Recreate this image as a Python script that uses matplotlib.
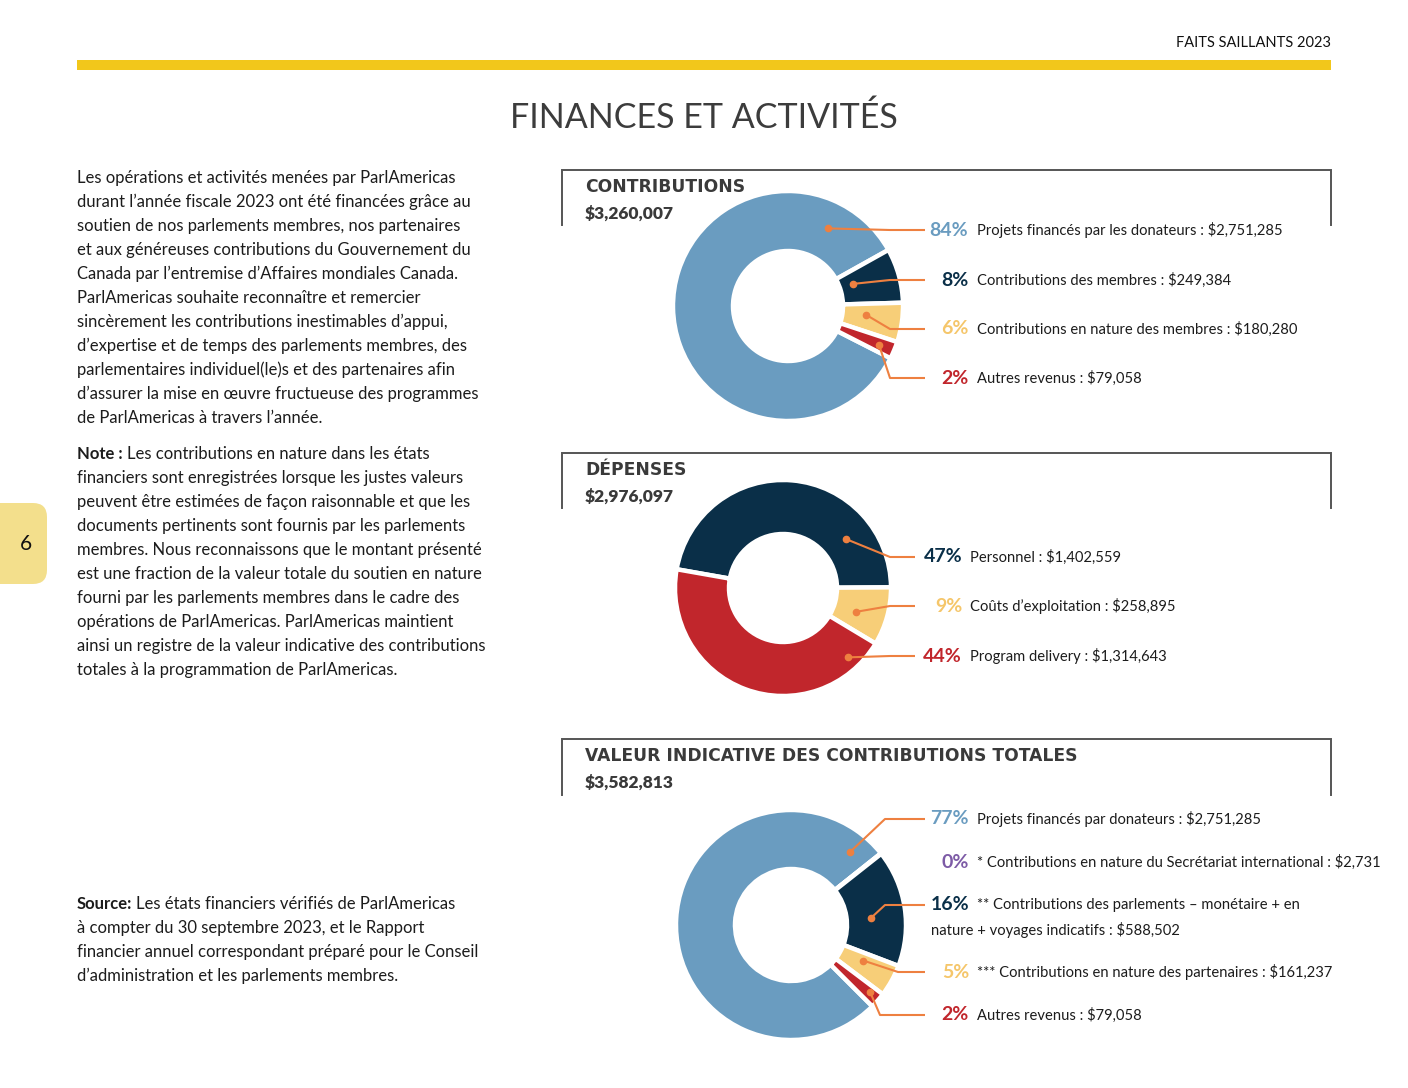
import matplotlib
matplotlib.use("Agg")
import matplotlib.pyplot as plt
import numpy as np
from matplotlib.patches import FancyBboxPatch

# ---------------- data ----------------
contrib_total = "$3,260,007"
contrib_values = [2751285, 249384, 180280, 79058]
contrib_pct = ["84%", "8%", "6%", "2%"]
contrib_labels = ["Projets financés par les donateurs : $2,751,285",
                  "Contributions des membres : $249,384",
                  "Contributions en nature des membres : $180,280",
                  "Autres revenus : $79,058"]

dep_total = "$2,976,097"
dep_values = [1402559, 258895, 1314643]
dep_pct = ["47%", "9%", "44%"]
dep_labels = ["Personnel : $1,402,559",
              "Coûts d’exploitation : $258,895",
              "Program delivery : $1,314,643"]

val_total = "$3,582,813"
val_values = [2751285, 2731, 588502, 161237, 79058]
val_pct = ["77%", "0%", "16%", "5%", "2%"]
val_labels = ["Projets financés par donateurs : $2,751,285",
              "* Contributions en nature du Secrétariat international : $2,731",
              "** Contributions des parlements – monétaire + en",
              "*** Contributions en nature des partenaires : $161,237",
              "Autres revenus : $79,058"]
val_label_cont = "nature + voyages indicatifs : $588,502"

para1 = ["Les opérations et activités menées par ParlAmericas",
         "durant l’année fiscale 2023 ont été financées grâce au",
         "soutien de nos parlements membres, nos partenaires",
         "et aux généreuses contributions du Gouvernement du",
         "Canada par l’entremise d’Affaires mondiales Canada.",
         "ParlAmericas souhaite reconnaître et remercier",
         "sincèrement les contributions inestimables d’appui,",
         "d’expertise et de temps des parlements membres, des",
         "parlementaires individuel(le)s et des partenaires afin",
         "d’assurer la mise en œuvre fructueuse des programmes",
         "de ParlAmericas à travers l’année."]
para2 = ["Les contributions en nature dans les états",
         "financiers sont enregistrées lorsque les justes valeurs",
         "peuvent être estimées de façon raisonnable et que les",
         "documents pertinents sont fournis par les parlements",
         "membres. Nous reconnaissons que le montant présenté",
         "est une fraction de la valeur totale du soutien en nature",
         "fourni par les parlements membres dans le cadre des",
         "opérations de ParlAmericas. ParlAmericas maintient",
         "ainsi un registre de la valeur indicative des contributions",
         "totales à la programmation de ParlAmericas."]
para3 = ["Les états financiers vérifiés de ParlAmericas",
         "à compter du 30 septembre 2023, et le Rapport",
         "financier annuel correspondant préparé pour le Conseil",
         "d’administration et les parlements membres."]

# ---------------- style ----------------
BLUE = "#6A9CC0"
NAVY = "#0A2F48"
YEL = "#F7CE78"
YEL_T = "#F5C66A"
RED = "#C1262C"
PURP = "#7D5BA6"
ORANGE = "#EE8040"
TXT = "#1c1c1c"
FONT = "Lato"

W, H = 1408, 1088
fig = plt.figure(figsize=(W / 100, H / 100), dpi=100)
ax = fig.add_axes([0, 0, 1, 1])
ax.axis("off")


def Y(y):
    return H - y


def txt(x, y, s, size=12, color=TXT, weight="normal", ha="left", va="center", family=FONT):
    return ax.text(x, Y(y), s, fontsize=size, color=color, fontweight=weight,
                   ha=ha, va=va, family=family)


# header
txt(1331, 43, "FAITS SAILLANTS 2023", size=10.5, ha="right", color="#111111")
ax.fill_between([77, 1331], Y(70), Y(60), color="#F2C71B", lw=0)
txt(704, 118, "FINANCES ET ACTIVITÉS", size=24.5, color="#3c3c3c", ha="center")

# page tab
ax.add_patch(FancyBboxPatch((-30, Y(584)), 77, 81, boxstyle="round,pad=0,rounding_size=14",
                            fc="#F3DF8C", ec="none"))
txt(26, 544, "6", size=15, color="#111111", ha="center")

# paragraphs
fig.canvas.draw()
renderer = fig.canvas.get_renderer()


def para(lines, y0, bold_prefix=None):
    for i, line in enumerate(lines):
        x = 77
        y = y0 + 24 * i
        if i == 0 and bold_prefix:
            t = txt(x, y, bold_prefix, weight="bold")
            bb = t.get_window_extent(renderer)
            x = x + bb.width + 4
        txt(x, y, line)


para(para1, 178)
para(para2, 454, "Note :")
para(para3, 904, "Source:")


# section frames
def frame(ytop, ybot, title, total):
    ax.plot([562, 562, 1331, 1331], [Y(ybot), Y(ytop), Y(ytop), Y(ybot)],
            color="#555555", lw=1.4, solid_joinstyle="miter")
    txt(585, ytop + 17, title, size=12.3, weight="bold", color="#3a3a3a",
        family="DejaVu Sans")
    txt(585, ytop + 44, total, size=12.5, weight="heavy", color="#3a3a3a")


frame(170, 225, "CONTRIBUTIONS", contrib_total)
frame(453, 508, "DÉPENSES", dep_total)
frame(739, 795, "VALEUR INDICATIVE DES CONTRIBUTIONS TOTALES", val_total)


def donut(values, colors, center, r, width, start):
    wedges, _ = ax.pie(values, colors=colors, startangle=start, counterclock=False,
                       radius=r, center=(center[0], Y(center[1])), frame=True,
                       wedgeprops=dict(width=width, edgecolor="white", linewidth=3.2))
    return wedges


def leaders(wedges, center, r, anchors, elbows, rows, xend):
    for w, (f, rf), ex, ry in zip(wedges, anchors, elbows, rows):
        if f is None:
            continue
        th = np.radians(w.theta1 + f * (w.theta2 - w.theta1))
        px = center[0] + rf * r * np.cos(th)
        py = Y(center[1]) + rf * r * np.sin(th)
        ax.plot([px, ex, xend], [py, Y(ry), Y(ry)], color=ORANGE, lw=1.5,
                solid_capstyle="butt")
        ax.plot(px, py, "o", color=ORANGE, ms=4.5)


def legend(pcts, pct_colors, labels, rows, xpct, xlab):
    for p, c, l, ry in zip(pcts, pct_colors, labels, rows):
        txt(xpct, ry, p, size=14, weight="bold", color=c, ha="right")
        txt(xlab, ry, l, size=10.6)


# donut 1
c1 = (788, 306)
w1 = donut(contrib_values, [BLUE, NAVY, YEL, RED], c1, 115, 60, -27)
rows1 = [230, 280, 329, 378]
leaders(w1, c1, 115, [(0.11, 0.76), (0.62, 0.6), (0.6, 0.68), (0.45, 0.86)],
        [890, 890, 890, 890], rows1, 925)
legend(contrib_pct, [BLUE, NAVY, YEL_T, RED], contrib_labels, rows1, 968, 977)

# donut 2
c2 = (783, 588)
w2 = donut(dep_values, [NAVY, YEL, RED], c2, 108, 54, 170)
rows2 = [557, 606, 656]
leaders(w2, c2, 108, [(0.22, 0.74), (0.41, 0.71), (0.9, 0.88)],
        [890, 890, 890], rows2, 915)
legend(dep_pct, [NAVY, YEL_T, RED], dep_labels, rows2, 962, 970)

# donut 3
c3 = (791, 925)
w3 = donut(val_values, [BLUE, PURP, NAVY, YEL, RED], c3, 115, 59, -45)
rows3 = [819, 862, 905, 972, 1015]
leaders(w3, c3, 115, [(0.045, 0.82), (None, None), (0.44, 0.7), (0.67, 0.7), (0.6, 0.9)],
        [885, None, 885, 898, 880], rows3, 925)
legend(val_pct, [BLUE, PURP, NAVY, YEL_T, RED], val_labels, rows3, 969, 977)
txt(931, 930, val_label_cont, size=10.6)

ax.set_xlim(0, W)
ax.set_ylim(0, H)
ax.set_aspect("auto")
fig.savefig("out.png", dpi=100, facecolor="white")
